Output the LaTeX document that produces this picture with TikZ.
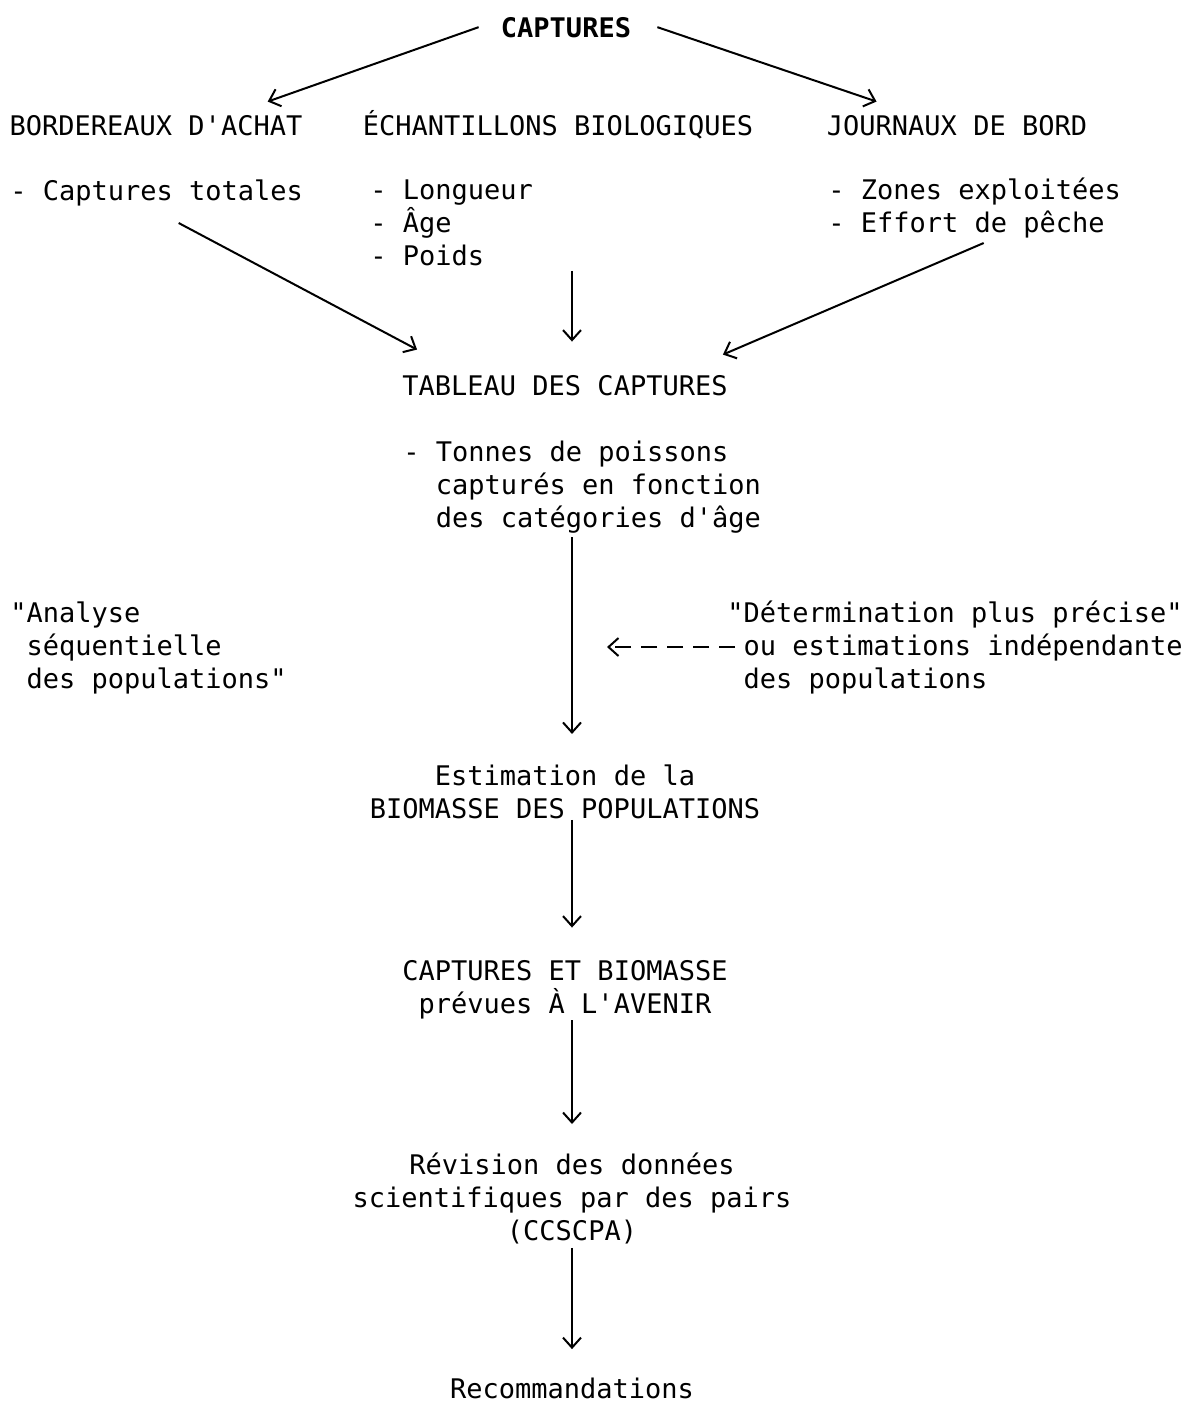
\documentclass[tikz,border=0pt]{standalone}
\usepackage{fontspec}
\setmonofont{DejaVu Sans Mono}
\usetikzlibrary{arrows.meta,calc}
\tikzset{
  texte/.style={font=\ttfamily\fontsize{13.5}{16.5}\selectfont,inner sep=0pt},
  titre/.style={texte,font=\ttfamily\bfseries\fontsize{13.5}{16.5}\selectfont},
  fleche/.style={line width=1pt,-{Straight Barb[length=5pt,width=9pt]}},
  pointille/.style={fleche,dash pattern=on 8pt off 5pt}
}
\begin{document}
\begin{tikzpicture}[x=0.5pt,y=-0.5pt]
  \useasboundingbox (0,0) rectangle (1188,1404);
  % sources
  \node[titre,anchor=base] (captures) at (566,37) {CAPTURES};
  \node[texte,anchor=base] (bordereaux) at (156,135) {BORDEREAUX D'ACHAT};
  \node[texte,anchor=base] (echant) at (558,135) {ÉCHANTILLONS BIOLOGIQUES};
  \node[texte,anchor=base] (journaux) at (957,135) {JOURNAUX DE BORD};
  \node[texte,anchor=base west] (totales) at (10,200) {- Captures totales};
  \node[texte,anchor=base west,align=left] (bio) at (370,265) {- Longueur\\- Âge\\- Poids};
  \node[texte,anchor=base west,align=left] (zones) at (828,232) {- Zones exploitées\\- Effort de pêche};
  % tableau
  \node[texte,anchor=base] (tableau) at (565,395) {TABLEAU DES CAPTURES};
  \node[texte,anchor=base west,align=left] (tonnes) at (403,527) {- Tonnes de poissons\\\phantom{- }capturés en fonction\\\phantom{- }des catégories d'âge};
  \node[texte,anchor=base west,align=left] (analyse) at (10,688) {"Analyse\\\phantom{"}séquentielle\\\phantom{"}des populations"};
  \node[texte,anchor=base west,align=left] (determ) at (727,688) {"Détermination plus précise"\\\phantom{"}ou estimations indépendante\\\phantom{"}des populations};
  % suite
  \node[texte,anchor=base,align=center] (estimation) at (565,818) {Estimation de la\\BIOMASSE DES POPULATIONS};
  \node[texte,anchor=base,align=center] (avenir) at (565,1013) {CAPTURES ET BIOMASSE\\prévues À L'AVENIR};
  \node[texte,anchor=base,align=center] (revision) at (572,1240) {Révision des données\\scientifiques par des pairs\\(CCSCPA)};
  \node[texte,anchor=base] (recomm) at (572,1398) {Recommandations};
  % fleches
  \draw[fleche] ($(captures.west)+(-22,0)$) -- ($(bordereaux.north east)+(-35,-13)$);
  \draw[fleche] ($(captures.east)+(26,0)$) -- ($(journaux.north west)+(50,-13)$);
  \draw[fleche] ($(totales.south)+(22,17)$) -- ($(tableau.north west)+(15,-25)$);
  \draw[fleche] ($(bio.south -| tableau.north)+(7,5)$) -- ($(tableau.north)+(7,-33)$);
  \draw[fleche] ($(zones.south)+(9,5)$) -- ($(tableau.north east)+(-5,-20)$);
  \draw[fleche] ($(tonnes.south -| estimation.north)+(7,4)$) -- ($(estimation.north)+(7,-30)$);
  \draw[pointille] ($(determ.west)+(8,0)$) -- ($(determ.west -| estimation.north)+(42,0)$);
  \draw[fleche] ($(estimation.south)+(7,1)$) -- ($(avenir.north)+(7,-32)$);
  \draw[fleche] ($(avenir.south)+(7,1)$) -- ($(revision.north)+(0,-28)$);
  \draw[fleche] ($(revision.south)+(0,4)$) -- ($(recomm.north)+(0,-28)$);
\end{tikzpicture}
\end{document}
